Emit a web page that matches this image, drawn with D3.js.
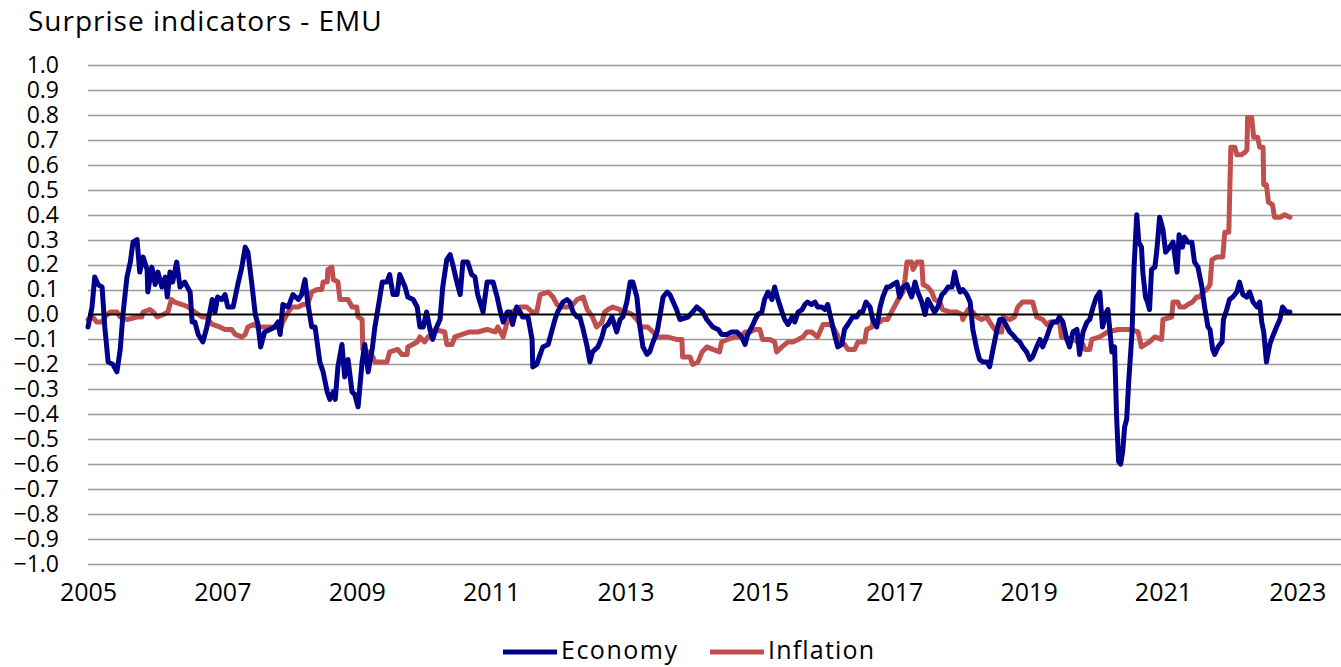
<!DOCTYPE html>
<html lang="en">
<head>
    <meta charset="UTF-8">
    <title>Surprise indicators - EMU</title>
    <script src="https://d3js.org/d3.v7.min.js"></script>
    <style>
        body {
            margin: 0;
            background: #fff;
            font-family: "Open Sans", Arial, sans-serif;
        }
        svg text {
            fill: #000;
        }
    </style>
</head>
<body>
    <div id="chart"></div>

    <script>
        // Chart values: [decimal year, value]
        const yearTicks = [2005, 2007, 2009, 2011, 2013, 2015, 2017, 2019, 2021, 2023];
        const valueTicks = d3.range(-10, 11).map(d => d / 10);
        const seriesNames = ["Economy", "Inflation"];

        const economy = [
            [2005.00, -0.05], [2005.06, 0.03], [2005.10, 0.15], [2005.15, 0.12], [2005.21, 0.11],
            [2005.25, -0.05], [2005.30, -0.19], [2005.37, -0.20], [2005.43, -0.23], [2005.48, -0.14],
            [2005.52, 0.00], [2005.58, 0.15], [2005.63, 0.21], [2005.67, 0.29], [2005.73, 0.30],
            [2005.77, 0.17], [2005.82, 0.23], [2005.88, 0.18], [2005.89, 0.09], [2005.95, 0.19],
            [2006.00, 0.12], [2006.04, 0.17], [2006.10, 0.11], [2006.15, 0.15], [2006.18, 0.07],
            [2006.22, 0.17], [2006.26, 0.13], [2006.32, 0.21], [2006.37, 0.11], [2006.44, 0.13],
            [2006.52, 0.09], [2006.55, -0.03], [2006.59, -0.03], [2006.64, -0.08], [2006.71, -0.11],
            [2006.77, -0.05], [2006.82, 0.02], [2006.85, 0.06], [2006.89, 0.01], [2006.93, 0.07],
            [2006.99, 0.06], [2007.04, 0.08], [2007.08, 0.03], [2007.16, 0.03], [2007.23, 0.12],
            [2007.29, 0.19], [2007.34, 0.27], [2007.38, 0.25], [2007.44, 0.12], [2007.49, 0.00],
            [2007.53, -0.04], [2007.57, -0.13], [2007.63, -0.07], [2007.71, -0.06], [2007.78, -0.05],
            [2007.83, -0.03], [2007.86, -0.08], [2007.90, 0.04], [2007.98, 0.03], [2008.05, 0.08],
            [2008.13, 0.06], [2008.18, 0.08], [2008.23, 0.14], [2008.27, 0.05], [2008.33, -0.05],
            [2008.38, -0.05], [2008.45, -0.19], [2008.50, -0.23], [2008.56, -0.31], [2008.60, -0.34],
            [2008.65, -0.31], [2008.68, -0.34], [2008.72, -0.21], [2008.78, -0.12], [2008.82, -0.25],
            [2008.87, -0.18], [2008.93, -0.31], [2008.97, -0.32], [2009.02, -0.37], [2009.08, -0.19],
            [2009.12, -0.12], [2009.17, -0.23], [2009.23, -0.14], [2009.27, -0.05], [2009.32, 0.03],
            [2009.38, 0.13], [2009.45, 0.13], [2009.49, 0.16], [2009.54, 0.08], [2009.60, 0.08],
            [2009.64, 0.16], [2009.72, 0.11], [2009.76, 0.07], [2009.84, 0.06], [2009.90, 0.03],
            [2009.94, -0.05], [2009.99, -0.05], [2010.04, 0.01], [2010.09, -0.06], [2010.13, -0.10],
            [2010.19, -0.05], [2010.24, -0.02], [2010.28, 0.11], [2010.34, 0.22], [2010.39, 0.24],
            [2010.43, 0.20], [2010.49, 0.13], [2010.54, 0.08], [2010.58, 0.21], [2010.65, 0.21],
            [2010.71, 0.16], [2010.76, 0.15], [2010.80, 0.08], [2010.88, 0.01], [2010.94, 0.13],
            [2011.03, 0.13], [2011.09, 0.07], [2011.13, 0.02], [2011.18, -0.03], [2011.24, 0.01],
            [2011.28, 0.01], [2011.32, -0.04], [2011.38, 0.03], [2011.43, 0.01], [2011.47, -0.01],
            [2011.55, -0.01], [2011.61, -0.10], [2011.62, -0.21], [2011.68, -0.20], [2011.73, -0.16],
            [2011.77, -0.13], [2011.85, -0.12], [2011.90, -0.07], [2011.95, -0.02], [2011.99, 0.01],
            [2012.07, 0.05], [2012.13, 0.06], [2012.17, 0.05], [2012.22, 0.01], [2012.28, -0.01],
            [2012.32, -0.01], [2012.37, -0.06], [2012.43, -0.13], [2012.47, -0.19], [2012.51, -0.15],
            [2012.59, -0.13], [2012.65, -0.09], [2012.69, -0.05], [2012.74, -0.04], [2012.80, -0.01],
            [2012.87, -0.07], [2012.92, -0.02], [2012.96, -0.01], [2013.02, 0.05], [2013.07, 0.13],
            [2013.11, 0.13], [2013.17, 0.07], [2013.21, -0.04], [2013.26, -0.13], [2013.32, -0.16],
            [2013.36, -0.15], [2013.41, -0.11], [2013.47, -0.07], [2013.51, -0.01], [2013.56, 0.07],
            [2013.62, 0.09], [2013.66, 0.08], [2013.76, 0.02], [2013.81, -0.02], [2013.93, -0.01],
            [2014.00, 0.01], [2014.06, 0.03], [2014.15, 0.01], [2014.21, -0.02], [2014.30, -0.05],
            [2014.38, -0.06], [2014.43, -0.08], [2014.51, -0.08], [2014.58, -0.07], [2014.66, -0.07],
            [2014.73, -0.09], [2014.78, -0.12], [2014.82, -0.08], [2014.88, -0.05], [2014.93, -0.02],
            [2014.97, 0.00], [2015.03, 0.01], [2015.07, 0.06], [2015.12, 0.09], [2015.18, 0.06],
            [2015.22, 0.11], [2015.27, 0.06], [2015.33, 0.01], [2015.37, -0.02], [2015.42, -0.04],
            [2015.48, -0.01], [2015.52, -0.03], [2015.57, 0.01], [2015.63, 0.02], [2015.67, 0.04],
            [2015.71, 0.05], [2015.77, 0.04], [2015.82, 0.05], [2015.86, 0.03], [2015.92, 0.03],
            [2015.97, 0.02], [2016.01, 0.04], [2016.07, -0.03], [2016.12, -0.09], [2016.16, -0.13],
            [2016.22, -0.12], [2016.26, -0.06], [2016.31, -0.04], [2016.38, -0.01], [2016.44, -0.01],
            [2016.49, 0.01], [2016.53, 0.01], [2016.58, 0.05], [2016.64, 0.03], [2016.68, -0.02],
            [2016.74, -0.05], [2016.79, 0.03], [2016.83, 0.07], [2016.89, 0.11], [2016.93, 0.11],
            [2016.98, 0.12], [2017.04, 0.13], [2017.08, 0.07], [2017.13, 0.11], [2017.19, 0.12],
            [2017.23, 0.09], [2017.26, 0.07], [2017.31, 0.13], [2017.35, 0.09], [2017.41, 0.05],
            [2017.46, 0.00], [2017.50, 0.06], [2017.56, 0.03], [2017.60, 0.01], [2017.65, 0.03],
            [2017.71, 0.08], [2017.75, 0.09], [2017.80, 0.11], [2017.86, 0.11], [2017.90, 0.17],
            [2017.93, 0.13], [2017.98, 0.09], [2018.02, 0.10], [2018.08, 0.08], [2018.13, 0.05],
            [2018.17, -0.06], [2018.23, -0.14], [2018.27, -0.18], [2018.32, -0.19], [2018.38, -0.19],
            [2018.42, -0.21], [2018.47, -0.14], [2018.53, -0.06], [2018.57, -0.02], [2018.62, -0.02],
            [2018.68, -0.05], [2018.72, -0.07], [2018.76, -0.08], [2018.82, -0.10], [2018.87, -0.11],
            [2018.91, -0.13], [2018.97, -0.15], [2019.02, -0.18], [2019.06, -0.17], [2019.12, -0.13],
            [2019.17, -0.10], [2019.21, -0.13], [2019.27, -0.09], [2019.32, -0.05], [2019.36, -0.03],
            [2019.42, -0.03], [2019.46, -0.01], [2019.51, -0.03], [2019.57, -0.10], [2019.61, -0.13],
            [2019.66, -0.07], [2019.72, -0.06], [2019.76, -0.16], [2019.81, -0.07], [2019.87, -0.03],
            [2019.91, -0.02], [2019.96, 0.03], [2020.01, 0.07], [2020.06, 0.09], [2020.10, -0.05],
            [2020.16, 0.01], [2020.18, 0.02], [2020.24, -0.15], [2020.28, -0.13], [2020.31, -0.41],
            [2020.34, -0.59], [2020.37, -0.60], [2020.40, -0.55], [2020.43, -0.45], [2020.46, -0.42],
            [2020.49, -0.27], [2020.54, -0.07], [2020.57, 0.19], [2020.61, 0.40], [2020.64, 0.29],
            [2020.68, 0.27], [2020.70, 0.17], [2020.74, 0.07], [2020.77, 0.05], [2020.80, 0.02],
            [2020.83, 0.18], [2020.88, 0.19], [2020.91, 0.26], [2020.95, 0.39], [2021.00, 0.34],
            [2021.04, 0.25], [2021.10, 0.27], [2021.15, 0.29], [2021.21, 0.17], [2021.24, 0.32],
            [2021.29, 0.27], [2021.32, 0.31], [2021.37, 0.29], [2021.43, 0.29], [2021.47, 0.21],
            [2021.52, 0.19], [2021.58, 0.11], [2021.62, 0.03], [2021.67, -0.05], [2021.70, -0.06],
            [2021.74, -0.14], [2021.77, -0.16], [2021.82, -0.13], [2021.88, -0.11], [2021.90, -0.02],
            [2021.95, 0.02], [2021.99, 0.06], [2022.04, 0.07], [2022.10, 0.09], [2022.14, 0.13],
            [2022.19, 0.08], [2022.25, 0.07], [2022.29, 0.09], [2022.34, 0.05], [2022.40, 0.03],
            [2022.44, 0.05], [2022.47, -0.03], [2022.50, -0.07], [2022.54, -0.19], [2022.59, -0.12],
            [2022.63, -0.09], [2022.69, -0.05], [2022.74, -0.02], [2022.78, 0.03], [2022.84, 0.01],
            [2022.89, 0.01]
        ];

        const inflation = [
            [2005.00, -0.02], [2005.07, -0.01], [2005.13, -0.03], [2005.21, -0.03], [2005.25, -0.01],
            [2005.33, 0.01], [2005.43, 0.01], [2005.48, -0.01], [2005.58, -0.02], [2005.73, -0.01],
            [2005.80, -0.01], [2005.82, 0.01], [2005.92, 0.02], [2005.97, 0.01], [2006.03, -0.01],
            [2006.12, 0.00], [2006.19, 0.01], [2006.24, 0.06], [2006.29, 0.05], [2006.40, 0.04],
            [2006.49, 0.03], [2006.59, 0.01], [2006.70, -0.01], [2006.77, -0.01], [2006.79, -0.02],
            [2006.85, -0.04], [2006.96, -0.05], [2007.04, -0.06], [2007.14, -0.06], [2007.19, -0.08],
            [2007.29, -0.09], [2007.34, -0.08], [2007.38, -0.05], [2007.46, -0.04], [2007.53, -0.05],
            [2007.63, -0.05], [2007.74, -0.05], [2007.81, -0.05], [2007.86, -0.06], [2007.90, -0.03],
            [2007.98, 0.01], [2008.04, 0.03], [2008.13, 0.03], [2008.20, 0.04], [2008.27, 0.04],
            [2008.33, 0.09], [2008.41, 0.10], [2008.48, 0.10], [2008.50, 0.13], [2008.56, 0.13],
            [2008.57, 0.18], [2008.63, 0.19], [2008.65, 0.14], [2008.72, 0.13], [2008.75, 0.06],
            [2008.87, 0.06], [2008.93, 0.03], [2009.00, 0.03], [2009.02, -0.01], [2009.08, -0.02],
            [2009.09, -0.14], [2009.17, -0.15], [2009.24, -0.17], [2009.27, -0.19], [2009.38, -0.19],
            [2009.45, -0.19], [2009.49, -0.15], [2009.61, -0.14], [2009.67, -0.16], [2009.75, -0.16],
            [2009.76, -0.13], [2009.90, -0.11], [2009.94, -0.09], [2010.01, -0.11], [2010.06, -0.09],
            [2010.12, -0.08], [2010.16, -0.06], [2010.31, -0.07], [2010.34, -0.12], [2010.42, -0.12],
            [2010.46, -0.09], [2010.57, -0.08], [2010.68, -0.07], [2010.80, -0.07], [2010.94, -0.06],
            [2011.06, -0.07], [2011.10, -0.05], [2011.18, -0.09], [2011.25, -0.02], [2011.31, 0.01],
            [2011.43, 0.03], [2011.53, 0.03], [2011.61, 0.01], [2011.68, 0.01], [2011.73, 0.08],
            [2011.85, 0.09], [2011.92, 0.07], [2011.98, 0.04], [2012.07, 0.03], [2012.14, 0.03],
            [2012.22, 0.04], [2012.28, 0.06], [2012.37, 0.07], [2012.43, 0.02], [2012.51, -0.01],
            [2012.57, -0.05], [2012.65, -0.03], [2012.69, 0.01], [2012.74, 0.02], [2012.81, 0.03],
            [2012.92, 0.02], [2012.95, 0.00], [2013.02, 0.01], [2013.10, 0.00], [2013.17, -0.02],
            [2013.24, -0.05], [2013.33, -0.05], [2013.41, -0.07], [2013.48, -0.09], [2013.62, -0.09],
            [2013.76, -0.10], [2013.84, -0.10], [2013.85, -0.17], [2013.96, -0.17], [2014.00, -0.20],
            [2014.08, -0.19], [2014.14, -0.15], [2014.21, -0.13], [2014.30, -0.14], [2014.40, -0.15],
            [2014.43, -0.11], [2014.52, -0.10], [2014.63, -0.09], [2014.70, -0.09], [2014.78, -0.07],
            [2014.85, -0.07], [2014.93, -0.06], [2015.00, -0.06], [2015.04, -0.10], [2015.15, -0.10],
            [2015.22, -0.11], [2015.25, -0.15], [2015.33, -0.13], [2015.42, -0.11], [2015.49, -0.11],
            [2015.57, -0.10], [2015.64, -0.09], [2015.70, -0.07], [2015.77, -0.07], [2015.86, -0.09],
            [2015.94, -0.04], [2016.04, -0.04], [2016.09, -0.05], [2016.15, -0.08], [2016.19, -0.11],
            [2016.26, -0.12], [2016.31, -0.14], [2016.41, -0.14], [2016.46, -0.11], [2016.56, -0.11],
            [2016.59, -0.06], [2016.67, -0.05], [2016.68, -0.03], [2016.79, -0.03], [2016.83, -0.02],
            [2016.90, -0.02], [2016.96, 0.01], [2017.04, 0.05], [2017.08, 0.07], [2017.13, 0.09],
            [2017.16, 0.14], [2017.19, 0.21], [2017.26, 0.21], [2017.28, 0.18], [2017.34, 0.21],
            [2017.41, 0.21], [2017.43, 0.12], [2017.50, 0.11], [2017.56, 0.09], [2017.60, 0.06],
            [2017.68, 0.05], [2017.72, 0.02], [2017.83, 0.01], [2017.93, 0.01], [2018.01, 0.00],
            [2018.02, -0.02], [2018.10, 0.02], [2018.17, 0.01], [2018.23, -0.01], [2018.30, -0.02],
            [2018.38, -0.01], [2018.42, -0.03], [2018.47, -0.05], [2018.53, -0.07], [2018.60, -0.07],
            [2018.62, -0.01], [2018.72, -0.02], [2018.79, -0.01], [2018.84, 0.03], [2018.91, 0.05],
            [2019.06, 0.05], [2019.12, -0.01], [2019.21, -0.02], [2019.27, -0.04], [2019.32, -0.03],
            [2019.46, -0.03], [2019.49, -0.09], [2019.66, -0.10], [2019.81, -0.12], [2019.84, -0.14],
            [2019.91, -0.14], [2019.94, -0.10], [2020.06, -0.09], [2020.18, -0.07], [2020.33, -0.06],
            [2020.51, -0.06], [2020.63, -0.07], [2020.68, -0.13], [2020.80, -0.11], [2020.88, -0.09],
            [2020.98, -0.10], [2021.00, -0.02], [2021.13, -0.01], [2021.15, 0.05], [2021.22, 0.05],
            [2021.25, 0.03], [2021.32, 0.03], [2021.37, 0.04], [2021.44, 0.05], [2021.50, 0.07],
            [2021.55, 0.07], [2021.59, 0.09], [2021.65, 0.10], [2021.70, 0.12], [2021.73, 0.22],
            [2021.80, 0.23], [2021.89, 0.23], [2021.92, 0.33], [2021.98, 0.33], [2022.01, 0.67],
            [2022.07, 0.67], [2022.10, 0.64], [2022.17, 0.64], [2022.22, 0.65], [2022.25, 0.66],
            [2022.26, 0.79], [2022.32, 0.79], [2022.35, 0.71], [2022.41, 0.71], [2022.44, 0.67],
            [2022.49, 0.67], [2022.50, 0.52], [2022.54, 0.52], [2022.57, 0.45], [2022.63, 0.44],
            [2022.66, 0.39], [2022.74, 0.39], [2022.81, 0.40], [2022.89, 0.39]
        ];

        const colors = { Economy: "#00008B", Inflation: "#C0504D" };

        // Layout
        const width = 1341, height = 667;
        const margin = { top: 65, right: 0, bottom: 103, left: 88 };

        const svg = d3.select("#chart")
            .append("svg")
            .attr("width", width)
            .attr("height", height);

        const x = d3.scaleLinear()
            .domain([2005, 2023.65])
            .range([margin.left, width - margin.right]);

        const y = d3.scaleLinear()
            .domain([-1, 1])
            .range([height - margin.bottom, margin.top]);

        // Title
        svg.append("text")
            .attr("x", 28)
            .attr("y", 31)
            .attr("font-size", 28)
            .attr("letter-spacing", 1)
            .text("Surprise indicators - EMU");

        // Horizontal grid lines
        svg.append("g")
            .selectAll("line")
            .data(valueTicks.filter(d => d !== 0))
            .join("line")
            .attr("x1", x.range()[0])
            .attr("x2", x.range()[1])
            .attr("y1", d => Math.round(y(d)) + 0.5)
            .attr("y2", d => Math.round(y(d)) + 0.5)
            .attr("stroke", "#9a9a9a")
            .attr("stroke-width", 1.3);

        // Y axis labels
        const yAxis = d3.axisLeft(y)
            .tickValues(valueTicks)
            .tickFormat(d3.format(".1f"))
            .tickSize(0)
            .tickPadding(0);

        svg.append("g")
            .attr("transform", `translate(59,0)`)
            .call(yAxis)
            .call(g => g.select(".domain").remove())
            .call(g => g.selectAll("text")
                .attr("font-size", 23)
                .attr("font-family", "'Open Sans', Arial, sans-serif")
                .attr("fill", "#000"));

        // X axis labels
        const xAxis = d3.axisBottom(x)
            .tickValues(yearTicks)
            .tickFormat(d3.format("d"))
            .tickSize(0)
            .tickPadding(0);

        svg.append("g")
            .attr("transform", `translate(0,583)`)
            .call(xAxis)
            .call(g => g.select(".domain").remove())
            .call(g => g.selectAll("text")
                .attr("font-size", 25)
                .attr("font-family", "'Open Sans', Arial, sans-serif")
                .attr("fill", "#000"));

        // Lines
        const line = d3.line()
            .x(d => x(d[0]))
            .y(d => y(d[1]));

        svg.append("path")
            .datum(inflation)
            .attr("fill", "none")
            .attr("stroke", colors.Inflation)
            .attr("stroke-width", 5)
            .attr("stroke-linejoin", "round")
            .attr("stroke-linecap", "round")
            .attr("d", line);

        svg.append("path")
            .datum(economy)
            .attr("fill", "none")
            .attr("stroke", colors.Economy)
            .attr("stroke-width", 5)
            .attr("stroke-linejoin", "round")
            .attr("stroke-linecap", "round")
            .attr("d", line);

        // Zero line on top
        svg.append("line")
            .attr("x1", x.range()[0])
            .attr("x2", x.range()[1])
            .attr("y1", y(0))
            .attr("y2", y(0))
            .attr("stroke", "#000")
            .attr("stroke-width", 2.2);

        // Legend
        const legendItems = [
            { name: seriesNames[0], x: 503, spacing: 1.5 },
            { name: seriesNames[1], x: 710, spacing: 1.2 }
        ];

        const legend = svg.append("g")
            .selectAll("g")
            .data(legendItems)
            .join("g")
            .attr("transform", d => `translate(${d.x},650)`);

        legend.append("line")
            .attr("x1", 0)
            .attr("x2", 54)
            .attr("y1", 2)
            .attr("y2", 2)
            .attr("stroke", d => colors[d.name])
            .attr("stroke-width", 5);

        legend.append("text")
            .attr("x", 58)
            .attr("dy", "0.35em")
            .attr("font-size", 25)
            .attr("letter-spacing", d => d.spacing)
            .text(d => d.name);
    </script>
</body>
</html>
